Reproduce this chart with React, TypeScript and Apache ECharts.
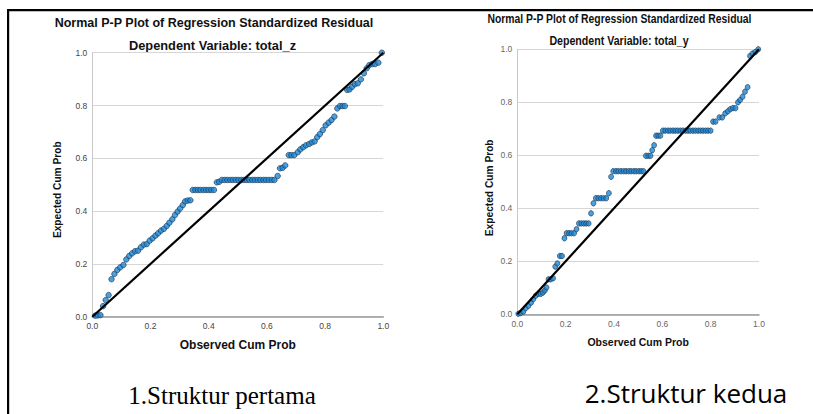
import React, { useEffect, useRef } from "react";
import * as echarts from "echarts";

const titleText = "Normal P-P Plot of Regression Standardized Residual";
const subtitleLeft = "Dependent Variable: total_z";
const subtitleRight = "Dependent Variable: total_y";
const xAxisName = "Observed Cum Prob";
const yAxisName = "Expected Cum Prob";
const captionLeft = "1.Struktur pertama";
const captionRight = "2.Struktur kedua";
const diagonal = [[0, 0], [1, 1]];

const leftObserved = [
  0.010, 0.019, 0.028, 0.037, 0.046, 0.056, 0.066, 0.076, 0.086, 0.096,
  0.107, 0.117, 0.127, 0.137, 0.147, 0.157, 0.167, 0.177, 0.187, 0.197,
  0.207, 0.217, 0.226, 0.236, 0.246, 0.256, 0.265, 0.275, 0.284, 0.293,
  0.302, 0.311, 0.319, 0.328, 0.337,
  0.345, 0.354, 0.363, 0.372, 0.382, 0.391, 0.400, 0.409, 0.418,
  0.428, 0.436,
  0.445, 0.455, 0.464, 0.474, 0.483, 0.493, 0.502, 0.512, 0.521, 0.531,
  0.540, 0.550, 0.559, 0.569, 0.578, 0.588, 0.597, 0.607, 0.617, 0.626,
  0.637, 0.645, 0.654, 0.663, 0.675, 0.684, 0.694, 0.706, 0.715, 0.725,
  0.734, 0.745, 0.754, 0.764, 0.773, 0.782, 0.792, 0.802, 0.812, 0.822,
  0.832, 0.842, 0.851, 0.860, 0.868, 0.876, 0.884, 0.893, 0.902, 0.912,
  0.923, 0.933, 0.943, 0.952, 0.962, 0.972, 0.983, 0.995,
];
const leftExpected = [
  0.004, 0.005, 0.006, 0.040, 0.063, 0.082, 0.142, 0.162, 0.177, 0.187,
  0.196, 0.217, 0.230, 0.240, 0.248, 0.250, 0.263, 0.273, 0.275, 0.288,
  0.297, 0.307, 0.316, 0.326, 0.333, 0.344, 0.356, 0.369, 0.385, 0.398,
  0.410, 0.423, 0.437, 0.440, 0.441,
  0.480, 0.480, 0.480, 0.480, 0.480, 0.480, 0.480, 0.480, 0.480,
  0.509, 0.511,
  0.518, 0.518, 0.518, 0.518, 0.518, 0.518, 0.518, 0.518, 0.518, 0.518,
  0.518, 0.518, 0.518, 0.518, 0.518, 0.518, 0.518, 0.518, 0.518, 0.518,
  0.533, 0.562, 0.564, 0.573, 0.612, 0.612, 0.612, 0.623, 0.634, 0.642,
  0.649, 0.654, 0.660, 0.664, 0.680, 0.692, 0.707, 0.725, 0.735, 0.745,
  0.758, 0.789, 0.798, 0.798, 0.798, 0.859, 0.861, 0.871, 0.881, 0.884,
  0.899, 0.922, 0.941, 0.953, 0.957, 0.957, 0.962, 1.000,
];

const rightObserved = [
  0.004, 0.014, 0.025, 0.035, 0.046, 0.057, 0.066, 0.076, 0.087, 0.097,
  0.106, 0.114, 0.121, 0.129, 0.138, 0.148, 0.157, 0.166, 0.176, 0.185,
  0.195, 0.204, 0.214, 0.224, 0.235, 0.245, 0.255, 0.265, 0.275, 0.285,
  0.295, 0.305, 0.315, 0.325, 0.335, 0.346, 0.357, 0.368, 0.379, 0.388,
  0.397, 0.408, 0.418, 0.429, 0.440, 0.450, 0.461, 0.471, 0.482, 0.492,
  0.503, 0.513, 0.522,
  0.532, 0.542, 0.551, 0.558, 0.566, 0.574, 0.583, 0.592,
  0.602, 0.612, 0.623, 0.633, 0.644, 0.654, 0.664, 0.675, 0.685, 0.696,
  0.706, 0.716, 0.727, 0.737, 0.748, 0.758, 0.768, 0.779, 0.789, 0.800,
  0.810, 0.820, 0.836, 0.848, 0.860, 0.871, 0.881, 0.892, 0.903, 0.913,
  0.922, 0.932, 0.942, 0.953, 0.963, 0.973, 0.985, 0.997,
];
const rightExpected = [
  0.002, 0.005, 0.010, 0.023, 0.032, 0.044, 0.057, 0.070, 0.077, 0.077,
  0.082, 0.090, 0.101, 0.132, 0.132, 0.136, 0.180, 0.192, 0.220, 0.220,
  0.287, 0.306, 0.306, 0.306, 0.306, 0.321, 0.343, 0.343, 0.343, 0.343,
  0.343, 0.381, 0.419, 0.438, 0.438, 0.438, 0.438, 0.438, 0.457, 0.519,
  0.540, 0.540, 0.540, 0.540, 0.540, 0.540, 0.540, 0.540, 0.540, 0.540,
  0.540, 0.540, 0.540,
  0.598, 0.598, 0.598, 0.619, 0.638, 0.674, 0.674, 0.674,
  0.693, 0.693, 0.693, 0.693, 0.693, 0.693, 0.693, 0.693, 0.693, 0.693,
  0.693, 0.693, 0.693, 0.693, 0.693, 0.693, 0.693, 0.693, 0.693, 0.693,
  0.727, 0.727, 0.743, 0.743, 0.758, 0.766, 0.774, 0.778, 0.778, 0.800,
  0.809, 0.821, 0.840, 0.857, 0.975, 0.984, 0.990, 1.000,
];

const FONT = "'Liberation Sans', Arial, sans-serif";
const POINT_COLOR = "#1e88d6";
const POINT_BORDER = "#17324f";

function makeXAxis(gridIndex: number, labelColor: string, nameSize: number) {
  return {
    gridIndex,
    type: "value",
    min: 0,
    max: 1,
    interval: 0.2,
    name: xAxisName,
    nameLocation: "middle",
    nameGap: 22,
    nameTextStyle: { fontFamily: FONT, fontWeight: "bold", fontSize: nameSize, color: "#111" },
    axisLine: { lineStyle: { color: "#9a9a9a", width: 1.5 } },
    axisTick: { show: false },
    axisLabel: {
      fontFamily: FONT,
      fontSize: 8.5,
      color: labelColor,
      margin: 5,
      formatter: (v: number) => v.toFixed(1),
    },
    splitLine: { show: false },
  };
}

function makeYAxis(gridIndex: number, labelColor: string, gap: number, shift: number) {
  return {
    gridIndex,
    type: "value",
    min: 0,
    max: 1,
    interval: 0.2,
    name: yAxisName,
    nameLocation: "middle",
    nameGap: gap,
    nameTextStyle: {
      fontFamily: FONT,
      fontWeight: "bold",
      fontSize: 10.2,
      color: "#111",
      padding: [0, shift, 0, 0],
    },
    axisLine: { show: true, lineStyle: { color: "#c8c8c8", width: 1 } },
    axisTick: { show: false },
    axisLabel: {
      fontFamily: FONT,
      fontSize: 8.5,
      color: labelColor,
      margin: 5,
      formatter: (v: number) => v.toFixed(1),
    },
    splitLine: { show: true, lineStyle: { color: "#d6d6d6", width: 1 } },
  };
}

export default function App() {
  const ref = useRef<HTMLDivElement>(null);
  useEffect(() => {
    if (!ref.current) return;
    const chart = echarts.init(ref.current, undefined, { renderer: "svg" });
    const leftData = leftObserved.map((x, i) => [x, leftExpected[i]]);
    const rightData = rightObserved.map((x, i) => [x, rightExpected[i]]);
    const titleStyle = (text: string, size: number) => ({
      text,
      fontFamily: FONT,
      fontWeight: "bold",
      fontSize: size,
      fill: "#111",
      textAlign: "center",
      textVerticalAlign: "middle",
    });
    chart.setOption({
      animation: false,
      backgroundColor: "#ffffff",
      grid: [
        { left: 92.3, top: 52.7, width: 291, height: 264 },
        { left: 517.3, top: 49.3, width: 241.7, height: 265 },
      ],
      xAxis: [makeXAxis(0, "#444", 12), makeXAxis(1, "#666", 10.5)],
      yAxis: [makeYAxis(0, "#444", 30, 10), makeYAxis(1, "#666", 23, 12)],
      series: [
        {
          type: "scatter",
          xAxisIndex: 0,
          yAxisIndex: 0,
          data: leftData,
          symbol: "circle",
          symbolSize: 5.5,
          itemStyle: { color: POINT_COLOR, borderColor: POINT_BORDER, borderWidth: 0.8 },
          z: 2,
        },
        {
          type: "line",
          xAxisIndex: 0,
          yAxisIndex: 0,
          data: diagonal,
          showSymbol: false,
          lineStyle: { color: "#000", width: 2.2 },
          z: 3,
        },
        {
          type: "scatter",
          xAxisIndex: 1,
          yAxisIndex: 1,
          data: rightData,
          symbol: "circle",
          symbolSize: [4.8, 5.5],
          itemStyle: { color: POINT_COLOR, borderColor: POINT_BORDER, borderWidth: 0.8 },
          z: 2,
        },
        {
          type: "line",
          xAxisIndex: 1,
          yAxisIndex: 1,
          data: diagonal,
          showSymbol: false,
          lineStyle: { color: "#000", width: 2.2 },
          z: 3,
        },
      ],
      graphic: [
        { type: "rect", shape: { x: 7, y: 9, width: 806, height: 2.2 }, style: { fill: "#000" } },
        { type: "rect", shape: { x: 7, y: 9, width: 2.2, height: 405 }, style: { fill: "#000" } },
        { type: "text", x: 214, y: 22.7, style: titleStyle(titleText, 12.5) },
        { type: "text", x: 212.5, y: 45.7, style: titleStyle(subtitleLeft, 12.8) },
        { type: "text", x: 619.5, y: 18.3, scaleX: 0.83, style: titleStyle(titleText, 12.5) },
        { type: "text", x: 619, y: 40, scaleX: 0.83, style: titleStyle(subtitleRight, 12.8) },
        {
          type: "text",
          x: 222,
          y: 395,
          style: {
            text: captionLeft,
            fontFamily: "'Liberation Serif', 'Times New Roman', serif",
            fontSize: 25,
            fill: "#000",
            textAlign: "center",
            textVerticalAlign: "middle",
          },
        },
        {
          type: "text",
          x: 686,
          y: 393,
          style: {
            text: captionRight,
            fontFamily: "'Open Sans', 'Noto Sans', sans-serif",
            fontSize: 26,
            fill: "#000",
            textAlign: "center",
            textVerticalAlign: "middle",
          },
        },
      ],
    });
    return () => chart.dispose();
  }, []);
  return (
    <div
      ref={ref}
      style={{ position: "absolute", left: 0, top: 0, width: 813, height: 414, background: "#fff" }}
    />
  );
}
